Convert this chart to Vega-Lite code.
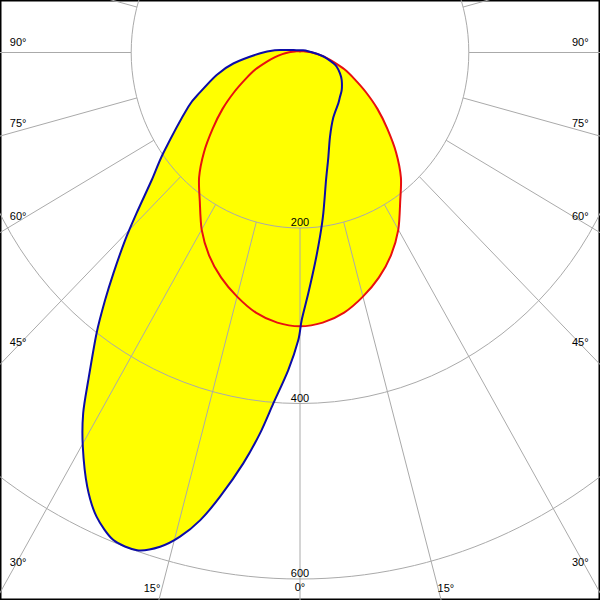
{
  "$schema": "https://vega.github.io/schema/vega-lite/v6.json",
  "width": 600,
  "height": 600,
  "padding": 0,
  "autosize": {"type": "fit", "contains": "padding"},
  "background": "white",
  "config": {"view": {"stroke": "#000000", "strokeWidth": 3}},
  "datasets": {
    "curves": [
      {"plane": "C0-C180", "g": -180, "cd": 1},
      {"plane": "C0-C180", "g": -150, "cd": 1.5},
      {"plane": "C0-C180", "g": -120, "cd": 3},
      {"plane": "C0-C180", "g": -105, "cd": 5},
      {"plane": "C0-C180", "g": -90, "cd": 14},
      {"plane": "C0-C180", "g": -85, "cd": 21},
      {"plane": "C0-C180", "g": -80, "cd": 30},
      {"plane": "C0-C180", "g": -75, "cd": 41},
      {"plane": "C0-C180", "g": -70, "cd": 56},
      {"plane": "C0-C180", "g": -65, "cd": 71},
      {"plane": "C0-C180", "g": -60, "cd": 90},
      {"plane": "C0-C180", "g": -55, "cd": 112},
      {"plane": "C0-C180", "g": -50, "cd": 135},
      {"plane": "C0-C180", "g": -45, "cd": 161},
      {"plane": "C0-C180", "g": -40, "cd": 186},
      {"plane": "C0-C180", "g": -35, "cd": 207},
      {"plane": "C0-C180", "g": -30, "cd": 233},
      {"plane": "C0-C180", "g": -25, "cd": 255},
      {"plane": "C0-C180", "g": -20, "cd": 273},
      {"plane": "C0-C180", "g": -15, "cd": 288},
      {"plane": "C0-C180", "g": -10, "cd": 301},
      {"plane": "C0-C180", "g": -5, "cd": 309},
      {"plane": "C0-C180", "g": 0, "cd": 312},
      {"plane": "C0-C180", "g": 5, "cd": 309},
      {"plane": "C0-C180", "g": 10, "cd": 301},
      {"plane": "C0-C180", "g": 15, "cd": 288},
      {"plane": "C0-C180", "g": 20, "cd": 273},
      {"plane": "C0-C180", "g": 25, "cd": 255},
      {"plane": "C0-C180", "g": 30, "cd": 233},
      {"plane": "C0-C180", "g": 35, "cd": 207},
      {"plane": "C0-C180", "g": 40, "cd": 186},
      {"plane": "C0-C180", "g": 45, "cd": 161},
      {"plane": "C0-C180", "g": 50, "cd": 135},
      {"plane": "C0-C180", "g": 55, "cd": 112},
      {"plane": "C0-C180", "g": 60, "cd": 90},
      {"plane": "C0-C180", "g": 65, "cd": 71},
      {"plane": "C0-C180", "g": 70, "cd": 56},
      {"plane": "C0-C180", "g": 75, "cd": 41},
      {"plane": "C0-C180", "g": 80, "cd": 30},
      {"plane": "C0-C180", "g": 85, "cd": 21},
      {"plane": "C0-C180", "g": 90, "cd": 14},
      {"plane": "C0-C180", "g": 105, "cd": 5},
      {"plane": "C0-C180", "g": 120, "cd": 3},
      {"plane": "C0-C180", "g": 150, "cd": 1.5},
      {"plane": "C90-C270", "g": -180, "cd": 2.5},
      {"plane": "C90-C270", "g": -130, "cd": 4},
      {"plane": "C90-C270", "g": -110, "cd": 8},
      {"plane": "C90-C270", "g": -100, "cd": 16},
      {"plane": "C90-C270", "g": -95, "cd": 30},
      {"plane": "C90-C270", "g": -89, "cd": 47},
      {"plane": "C90-C270", "g": -81, "cd": 80},
      {"plane": "C90-C270", "g": -75.5, "cd": 102},
      {"plane": "C90-C270", "g": -69, "cd": 127},
      {"plane": "C90-C270", "g": -65, "cd": 146},
      {"plane": "C90-C270", "g": -54.7, "cd": 198.6},
      {"plane": "C90-C270", "g": -50.4, "cd": 228},
      {"plane": "C90-C270", "g": -46.6, "cd": 266.5},
      {"plane": "C90-C270", "g": -44.1, "cd": 297.7},
      {"plane": "C90-C270", "g": -41.3, "cd": 335},
      {"plane": "C90-C270", "g": -39.3, "cd": 364.6},
      {"plane": "C90-C270", "g": -37, "cd": 400.5},
      {"plane": "C90-C270", "g": -33.9, "cd": 449.7},
      {"plane": "C90-C270", "g": -32, "cd": 484.8},
      {"plane": "C90-C270", "g": -29.8, "cd": 517.8},
      {"plane": "C90-C270", "g": -27, "cd": 555.3},
      {"plane": "C90-C270", "g": -24.5, "cd": 581.3},
      {"plane": "C90-C270", "g": -21.7, "cd": 598},
      {"plane": "C90-C270", "g": -18.8, "cd": 599.1},
      {"plane": "C90-C270", "g": -16.4, "cd": 587.1},
      {"plane": "C90-C270", "g": -14.45, "cd": 569.8},
      {"plane": "C90-C270", "g": -12.5, "cd": 545.8},
      {"plane": "C90-C270", "g": -10.6, "cd": 515},
      {"plane": "C90-C270", "g": -8.17, "cd": 473},
      {"plane": "C90-C270", "g": -6.23, "cd": 436.6},
      {"plane": "C90-C270", "g": -4.52, "cd": 401.1},
      {"plane": "C90-C270", "g": -2.2, "cd": 362.1},
      {"plane": "C90-C270", "g": -0.35, "cd": 327.6},
      {"plane": "C90-C270", "g": 0.38, "cd": 304.8},
      {"plane": "C90-C270", "g": 2.05, "cd": 274.6},
      {"plane": "C90-C270", "g": 4.23, "cd": 240.9},
      {"plane": "C90-C270", "g": 6.44, "cd": 211.2},
      {"plane": "C90-C270", "g": 8.57, "cd": 185.3},
      {"plane": "C90-C270", "g": 12, "cd": 148.5},
      {"plane": "C90-C270", "g": 15.5, "cd": 125.2},
      {"plane": "C90-C270", "g": 20.3, "cd": 102.4},
      {"plane": "C90-C270", "g": 28, "cd": 84},
      {"plane": "C90-C270", "g": 38.1, "cd": 73.6},
      {"plane": "C90-C270", "g": 43.2, "cd": 69.2},
      {"plane": "C90-C270", "g": 49.2, "cd": 65.3},
      {"plane": "C90-C270", "g": 57.6, "cd": 58.5},
      {"plane": "C90-C270", "g": 63.4, "cd": 53},
      {"plane": "C90-C270", "g": 69.6, "cd": 46.4},
      {"plane": "C90-C270", "g": 72.7, "cd": 41.4},
      {"plane": "C90-C270", "g": 78.2, "cd": 32.3},
      {"plane": "C90-C270", "g": 83.1, "cd": 23.9},
      {"plane": "C90-C270", "g": 94.4, "cd": 11.9},
      {"plane": "C90-C270", "g": 110, "cd": 7},
      {"plane": "C90-C270", "g": 130, "cd": 4}
    ],
    "circles": [{"cd": 200}, {"cd": 400}, {"cd": 600}],
    "radials": [
      {"g": -105}, {"g": -90}, {"g": -75}, {"g": -60}, {"g": -45}, {"g": -30}, {"g": -15},
      {"g": 0}, {"g": 15}, {"g": 30}, {"g": 45}, {"g": 60}, {"g": 75}, {"g": 90}, {"g": 105}
    ],
    "angleLabels": [
      {"label": "90°", "x": -334, "y": 10.8},
      {"label": "75°", "x": -334, "y": -81.5},
      {"label": "60°", "x": -334, "y": -187.5},
      {"label": "45°", "x": -334, "y": -331},
      {"label": "30°", "x": -334, "y": -581.4},
      {"label": "15°", "x": -175.4, "y": -611.4},
      {"label": "0°", "x": 0, "y": -610.3},
      {"label": "15°", "x": 172.9, "y": -611.4},
      {"label": "30°", "x": 332, "y": -581.4},
      {"label": "45°", "x": 332, "y": -331},
      {"label": "60°", "x": 332, "y": -187.5},
      {"label": "75°", "x": 332, "y": -81.5},
      {"label": "90°", "x": 332, "y": 10.8}
    ]
  },
  "layer": [
    {
      "data": {"name": "curves"},
      "transform": [
        {"calculate": "datum.cd * sin(datum.g * PI / 180)", "as": "x"},
        {"calculate": "-datum.cd * cos(datum.g * PI / 180)", "as": "y"}
      ],
      "mark": {"type": "line", "fill": "#ffff00", "strokeWidth": 0, "interpolate": "cardinal-closed", "tension": 0.2, "clip": true},
      "encoding": {
        "x": {"field": "x", "type": "quantitative", "scale": {"domain": [-355.45, 355.45], "nice": false, "zero": false}, "axis": null},
        "y": {"field": "y", "type": "quantitative", "scale": {"domain": [-623.93, 59.83], "nice": false, "zero": false}, "axis": null},
        "detail": {"field": "plane", "type": "nominal"},
        "order": {"field": "g", "type": "quantitative"}
      }
    },
    {
      "data": {"name": "circles"},
      "mark": {"type": "point", "filled": false, "opacity": 1, "stroke": "#aaaaaa", "strokeWidth": 1, "clip": true,
               "shape": "M -0.96182 0 A 0.96182 1 0 1 1 0.96182 0 A 0.96182 1 0 1 1 -0.96182 0 Z"},
      "encoding": {
        "x": {"datum": 0, "type": "quantitative"},
        "y": {"datum": 0, "type": "quantitative"},
        "size": {"field": "cd", "type": "quantitative", "scale": {"type": "pow", "exponent": 2, "domain": [0, 600], "range": [0, 1108809], "zero": true}, "legend": null}
      }
    },
    {
      "data": {"name": "radials"},
      "transform": [
        {"calculate": "200 * sin(datum.g * PI / 180)", "as": "x"},
        {"calculate": "-200 * cos(datum.g * PI / 180)", "as": "y"},
        {"calculate": "1000 * sin(datum.g * PI / 180)", "as": "x2"},
        {"calculate": "-1000 * cos(datum.g * PI / 180)", "as": "y2"}
      ],
      "mark": {"type": "rule", "stroke": "#aaaaaa", "strokeWidth": 1, "clip": true},
      "encoding": {
        "x": {"field": "x", "type": "quantitative"},
        "y": {"field": "y", "type": "quantitative"},
        "x2": {"field": "x2"},
        "y2": {"field": "y2"}
      }
    },
    {
      "data": {"name": "circles"},
      "transform": [{"calculate": "-datum.cd", "as": "y"}],
      "mark": {"type": "text", "font": "Liberation Sans", "fontSize": 11, "fill": "#000000", "opacity": 1, "dy": -2, "baseline": "alphabetic", "align": "center"},
      "encoding": {
        "x": {"datum": 0, "type": "quantitative"},
        "y": {"field": "y", "type": "quantitative"},
        "text": {"field": "cd", "type": "quantitative"}
      }
    },
    {
      "data": {"name": "angleLabels"},
      "mark": {"type": "text", "font": "Liberation Sans", "fontSize": 11, "fill": "#000000", "opacity": 1, "baseline": "middle", "align": "center"},
      "encoding": {
        "x": {"field": "x", "type": "quantitative"},
        "y": {"field": "y", "type": "quantitative"},
        "text": {"field": "label", "type": "nominal"}
      }
    },
    {
      "data": {"name": "curves"},
      "transform": [
        {"filter": "datum.plane === 'C0-C180'"},
        {"calculate": "datum.cd * sin(datum.g * PI / 180)", "as": "x"},
        {"calculate": "-datum.cd * cos(datum.g * PI / 180)", "as": "y"}
      ],
      "mark": {"type": "line", "stroke": "#e81010", "strokeWidth": 2, "interpolate": "cardinal-closed", "tension": 0.2, "clip": true},
      "encoding": {
        "x": {"field": "x", "type": "quantitative"},
        "y": {"field": "y", "type": "quantitative"},
        "order": {"field": "g", "type": "quantitative"}
      }
    },
    {
      "data": {"name": "curves"},
      "transform": [
        {"filter": "datum.plane === 'C90-C270'"},
        {"calculate": "datum.cd * sin(datum.g * PI / 180)", "as": "x"},
        {"calculate": "-datum.cd * cos(datum.g * PI / 180)", "as": "y"}
      ],
      "mark": {"type": "line", "stroke": "#0c0ca8", "strokeWidth": 2, "interpolate": "cardinal-closed", "tension": 0.2, "clip": true},
      "encoding": {
        "x": {"field": "x", "type": "quantitative"},
        "y": {"field": "y", "type": "quantitative"},
        "order": {"field": "g", "type": "quantitative"}
      }
    }
  ]
}
